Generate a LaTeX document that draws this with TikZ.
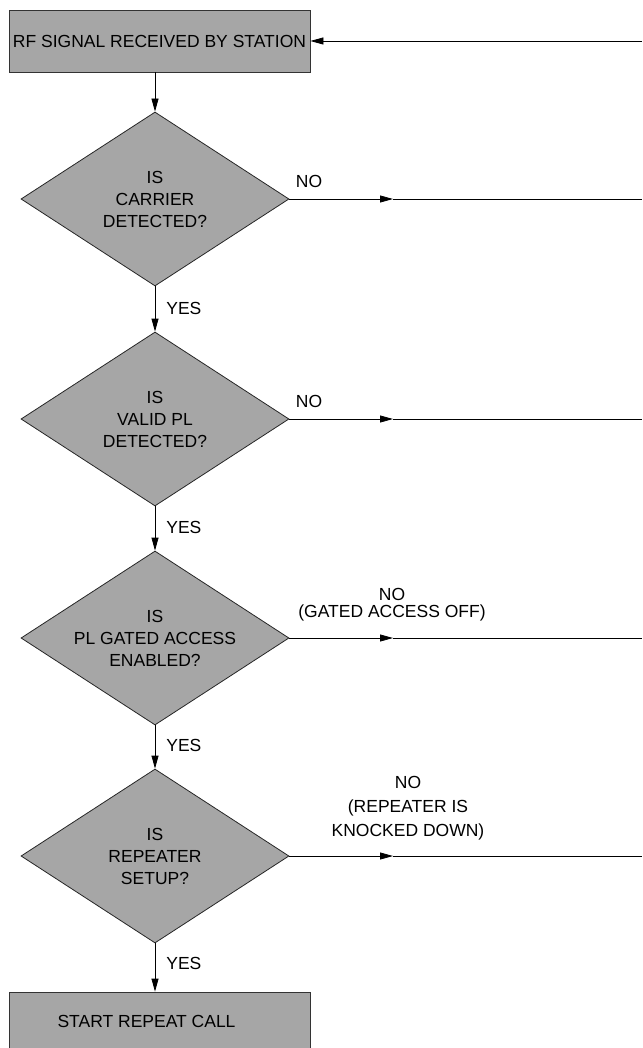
\documentclass[tikz,border=0pt]{standalone}
\usepackage{fontspec}
\setmainfont{Liberation Sans}
\usetikzlibrary{arrows.meta,shapes.geometric}

\begin{document}
\begin{tikzpicture}[x=1pt,y=-1pt,>={Triangle[length=13pt,width=7pt]},
  font=\fontsize{17.5}{22}\selectfont,line width=0.8pt,
  stepbox/.style={draw=black!80,fill=black!35,minimum width=301pt,minimum height=62pt,inner sep=0pt},
  test/.style={diamond,shape aspect=1.54,draw=black!85,fill=black!35,minimum width=268pt,minimum height=174pt,inner sep=0pt,align=center},
  lbl/.style={align=center,inner sep=0pt}]
\useasboundingbox (0,0) rectangle (642,1048);
% boxes and decisions
\node[stepbox] (rx) at (159.5,41) {RF SIGNAL RECEIVED BY STATION};
\node[test] (carrier) at (155,199) {IS\\CARRIER\\DETECTED?};
\node[test] (validpl) at (155,419) {IS\\VALID PL\\DETECTED?};
\node[test] (gated) at (155,638) {IS\\PL GATED ACCESS\\ENABLED?};
\node[test] (setup) at (155,856) {IS\\REPEATER\\SETUP?};
\node[stepbox,minimum height=58pt] (repeat) at (159.5,1021) {\hspace*{-26pt}START REPEAT CALL};
% free ends on the right
\coordinate (r0) at (642,41);
\coordinate (m1) at (393,199);
\coordinate (r1) at (642,199);
\coordinate (m2) at (393,419);
\coordinate (r2) at (642,419);
\coordinate (m3) at (393,638);
\coordinate (r3) at (642,638);
\coordinate (m4) at (393,856);
\coordinate (r4) at (642,856);
% yes path
\draw[->] (r0) -- (rx.east);
\draw[->] (rx.south -| carrier.north) -- (carrier.north);
\draw[->] (carrier.south) -- (validpl.north);
\draw[->] (validpl.south) -- (gated.north);
\draw[->] (gated.south) -- (setup.north);
\draw[->] (setup.south) -- (repeat.north -| setup.south);
\node[lbl,anchor=west] (yes1) at (166,308) {YES};
\node[lbl,anchor=west] (yes2) at (166,527) {YES};
\node[lbl,anchor=west] (yes3) at (166,745) {YES};
\node[lbl,anchor=west] (yes4) at (166,963) {YES};
% no path
\draw[->] (carrier.east) -- (m1);
\draw (m1) -- (r1);
\draw[->] (validpl.east) -- (m2);
\draw (m2) -- (r2);
\draw[->] (gated.east) -- (m3);
\draw (m3) -- (r3);
\draw[->] (setup.east) -- (m4);
\draw (m4) -- (r4);
\node[lbl] (no1) at (309,181) {NO};
\node[lbl] (no2) at (309,401) {NO};
\node[lbl] (no3) at (392,605) {NO\\[-5pt](GATED ACCESS OFF)};
\node[lbl] (no4) at (408,808) {NO\\[2pt](REPEATER IS\\[2pt]KNOCKED DOWN)};
\end{tikzpicture}
\end{document}
